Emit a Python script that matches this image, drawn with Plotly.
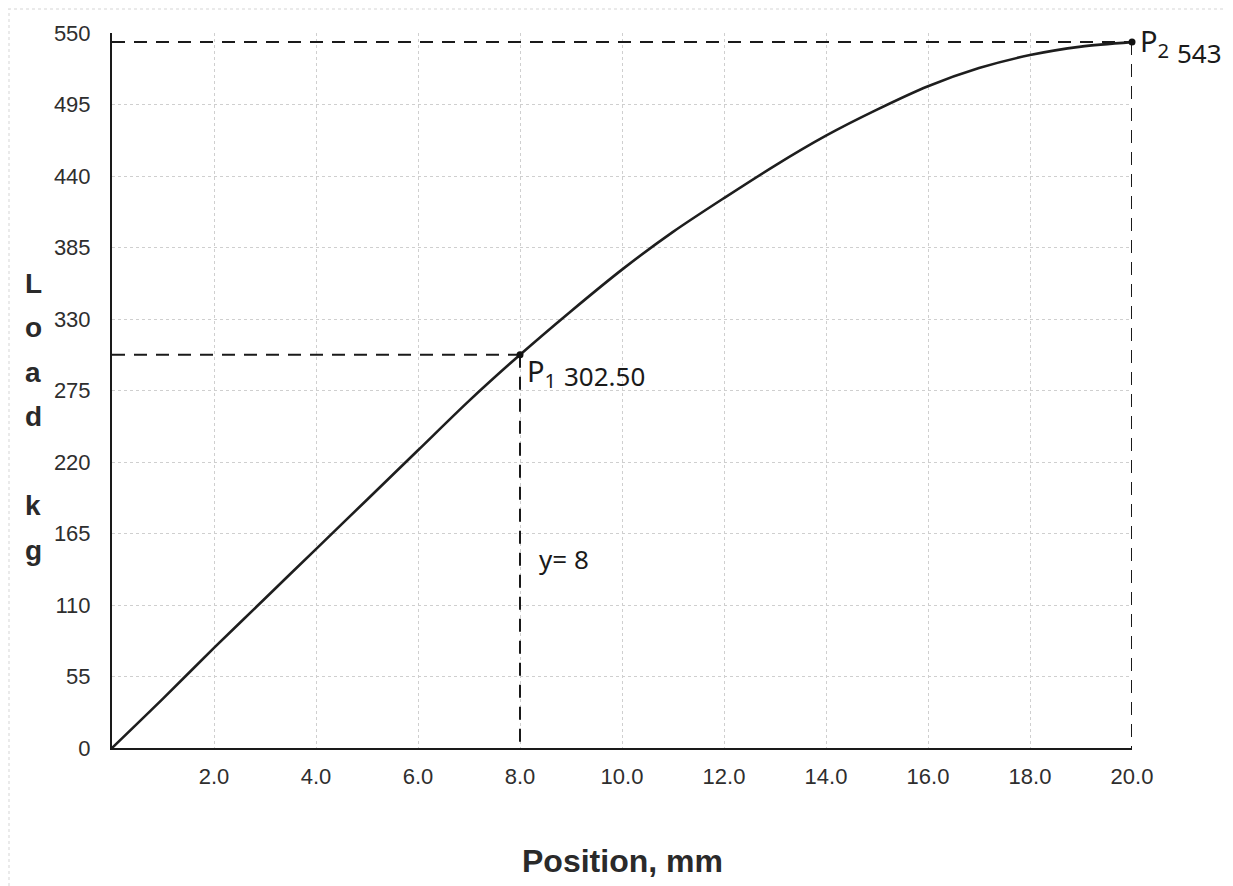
import plotly.graph_objects as go

# ---- data ----
position_mm = [0, 1, 2, 3, 4, 5, 6, 7, 8, 9, 10, 11, 12, 13, 14, 15, 16, 17, 18, 19, 20]
load_kg = [0, 38, 77, 115, 153, 191, 229, 267, 302.5, 336, 368, 397, 423, 448, 471, 491,
           509, 523, 533, 539.5, 543]

p1_x, p1_y = 8.0, 302.5
p2_x, p2_y = 20.0, 543.0

x_ticks = [2, 4, 6, 8, 10, 12, 14, 16, 18, 20]
x_tick_labels = ["2.0", "4.0", "6.0", "8.0", "10.0", "12.0", "14.0", "16.0", "18.0", "20.0"]
y_ticks = [0, 55, 110, 165, 220, 275, 330, 385, 440, 495, 550]
y_tick_labels = [str(v) for v in y_ticks]

y_title_letters = ["L", "o", "a", "d", "", "k", "g"]

# ---- figure geometry (page pixels; the page body has an 8px margin) ----
OFF = 8
PAGE_W, PAGE_H = 1233, 886
W, H = PAGE_W - OFF, PAGE_H - OFF
plot_left, plot_right, plot_top, plot_bottom = 112, 1132, 33, 748
L = plot_left - OFF
T = plot_top - OFF
R = W - (plot_right - OFF)
B = H - (plot_bottom - OFF)
plot_w = plot_right - plot_left
plot_h = plot_bottom - plot_top


def px_x(page_x):
    return (page_x - plot_left) / plot_w


def px_y(page_y):
    return (plot_bottom - page_y) / plot_h


fig = go.Figure()

dash_style = dict(color="#1a1a1a", width=2, dash="13px,9px")

# guide lines to P2
fig.add_trace(go.Scatter(x=[0, p2_x], y=[p2_y, p2_y], mode="lines", line=dash_style,
                         hoverinfo="skip", showlegend=False))
fig.add_trace(go.Scatter(x=[p2_x, p2_x], y=[p2_y, 0], mode="lines", line=dash_style,
                         hoverinfo="skip", showlegend=False))
# guide lines to P1
fig.add_trace(go.Scatter(x=[0, p1_x], y=[p1_y, p1_y], mode="lines", line=dash_style,
                         hoverinfo="skip", showlegend=False))
fig.add_trace(go.Scatter(x=[p1_x, p1_x], y=[p1_y, 0], mode="lines", line=dash_style,
                         hoverinfo="skip", showlegend=False))

# load curve
fig.add_trace(go.Scatter(x=position_mm, y=load_kg, mode="lines",
                         line=dict(color="#1e1e1e", width=2.6, shape="spline", smoothing=0.8),
                         showlegend=False, cliponaxis=False))

# points
fig.add_trace(go.Scatter(x=[p1_x, p2_x], y=[p1_y, p2_y], mode="markers",
                         marker=dict(color="#111", size=7), showlegend=False, cliponaxis=False))

tick_font = dict(family="Liberation Sans, Arial, sans-serif", size=22, color="#2e2e2e")

fig.update_layout(
    width=W, height=H,
    margin=dict(l=L, r=R, t=T, b=B),
    paper_bgcolor="white",
    plot_bgcolor="white",
    xaxis=dict(range=[0, 20], tickvals=x_ticks, ticktext=x_tick_labels,
               showgrid=True, gridcolor="#cfcfcf", griddash="dot", gridwidth=1,
               showline=True, linecolor="#1a1a1a", linewidth=2, zeroline=False,
               ticks="", tickfont=tick_font, ticklabelstandoff=8, fixedrange=True),
    yaxis=dict(range=[0, 550], tickvals=y_ticks, ticktext=y_tick_labels,
               showgrid=True, gridcolor="#cfcfcf", griddash="dot", gridwidth=1,
               showline=True, linecolor="#1a1a1a", linewidth=2, zeroline=False,
               ticks="", tickfont=tick_font, ticklabelstandoff=15, fixedrange=True),
)

# vertical stacked y-axis title
letter_font = dict(family="Liberation Sans, Arial, sans-serif", size=28, color="#2a2a2a")
letter_top_px = 283
letter_step_px = 44.5
for i, ch in enumerate(y_title_letters):
    if not ch:
        continue
    py = letter_top_px + i * letter_step_px
    fig.add_annotation(text="<b>%s</b>" % ch, xref="paper", yref="paper",
                       x=px_x(33), y=px_y(py),
                       xanchor="center", yanchor="middle", showarrow=False, font=letter_font)

# x-axis title
fig.add_annotation(text="<b>Position, mm</b>", xref="paper", yref="paper",
                   x=px_x(622), y=px_y(861),
                   xanchor="center", yanchor="middle", showarrow=False,
                   font=dict(family="Liberation Sans, Arial, sans-serif", size=32, color="#2a2a2a"))

hand_family = "Noto Sans, DejaVu Sans, sans-serif"
p_font = dict(family=hand_family, size=29, color="#1a1a1a")
num_font = dict(family=hand_family, size=26, color="#1a1a1a")

# P2 label
fig.add_annotation(text="P<sub>2</sub>", xref="paper", yref="paper", x=px_x(1138), y=px_y(42),
                   xanchor="left", yanchor="middle", showarrow=False, font=p_font)
fig.add_annotation(text="%d" % p2_y, xref="paper", yref="paper", x=px_x(1175), y=px_y(53),
                   xanchor="left", yanchor="middle", showarrow=False, font=num_font)

# P1 label
fig.add_annotation(text="P<sub>1</sub>", xref="paper", yref="paper", x=px_x(525), y=px_y(372),
                   xanchor="left", yanchor="middle", showarrow=False, font=p_font)
fig.add_annotation(text="%.2f" % p1_y, xref="paper", yref="paper", x=px_x(562), y=px_y(376),
                   xanchor="left", yanchor="middle", showarrow=False, font=num_font)

# y = 8 note
fig.add_annotation(text="y= %d" % p1_x, xref="paper", yref="paper", x=px_x(537), y=px_y(559),
                   xanchor="left", yanchor="middle", showarrow=False, font=num_font)

# faint scan border (dotted) along top and left edges of the page
fig.add_shape(type="line", xref="paper", yref="paper",
              x0=px_x(OFF), x1=px_x(PAGE_W), y0=px_y(OFF + 1), y1=px_y(OFF + 1),
              line=dict(color="#e4e4e4", width=1.5, dash="dot"))
fig.add_shape(type="line", xref="paper", yref="paper",
              x0=px_x(OFF + 1), x1=px_x(OFF + 1), y0=px_y(PAGE_H), y1=px_y(OFF + 1),
              line=dict(color="#e4e4e4", width=1.5, dash="dot"))

fig.write_html("out.html")
